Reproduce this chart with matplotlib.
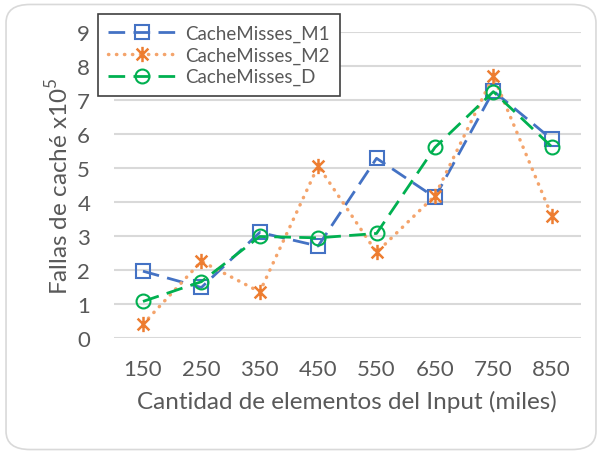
import numpy as np
import matplotlib
matplotlib.use("Agg")
import matplotlib.pyplot as plt
from matplotlib.path import Path
from matplotlib.patches import FancyBboxPatch

plt.rcParams['font.family'] = ['Lato', 'DejaVu Sans']
plt.rcParams['mathtext.fontset'] = 'custom'
plt.rcParams['mathtext.rm'] = 'Lato'

# data
categories = ["150", "250", "350", "450", "550", "650", "750", "850"]
m1 = [1.96, 1.48, 3.10, 2.70, 5.28, 4.13, 7.26, 5.84]
m2 = [0.40, 2.25, 1.35, 5.06, 2.51, 4.18, 7.70, 3.59]
d = [1.07, 1.65, 2.98, 2.94, 3.07, 5.60, 7.24, 5.62]

gray = "#595959"
x = np.arange(len(categories))

# excel style star marker: X plus vertical bar
star = Path([(-1, -1), (1, 1), (-1, 1), (1, -1), (0, -1.3), (0, 1.3)],
            [Path.MOVETO, Path.LINETO, Path.MOVETO, Path.LINETO, Path.MOVETO, Path.LINETO])

fig = plt.figure(figsize=(6.02, 4.56), dpi=100)
ax = fig.add_axes([0.189, 0.257, 0.776, 0.671])

# rounded chart border
fig.patches.append(FancyBboxPatch((0.01, 0.012), 0.98, 0.976, boxstyle="round,pad=0,rounding_size=0.04",
                                  transform=fig.transFigure, fc="white", ec="#d9d9d9", lw=1.2, zorder=-10))

ax.plot(x, m1, color="#4472c4", lw=2, dashes=(6, 3), marker="s", ms=10, mfc="none",
        mec="#4472c4", mew=1.5, label="CacheMisses_M1")
ax.plot(x, m2, color="#f4a46c", lw=2.5, linestyle=(0, (0.1, 2.2)), dash_capstyle="round",
        marker=star, ms=11, mec="#ed7d31", mew=1.8, label="CacheMisses_M2")
ax.plot(x, d, color="#00b050", lw=2, dashes=(6, 3), marker="o", ms=10, mfc="none",
        mec="#00b050", mew=1.5, label="CacheMisses_D")

ax.set_xlim(-0.5, len(categories) - 0.5)
ax.set_ylim(0, 9)
ax.set_yticks(range(0, 10))
ax.set_xticks(x)
ax.set_xticklabels(categories)
ax.grid(axis="y", color="#d9d9d9", lw=1.5)
ax.set_axisbelow(True)
for s in ax.spines.values():
    s.set_visible(False)
ax.tick_params(length=0, labelsize=16, colors=gray)
ax.tick_params(axis="y", pad=17)
ax.tick_params(axis="x", pad=15)

ax.set_xlabel("Cantidad de elementos del Input (miles)", fontsize=17.5, color=gray, labelpad=8)
ax.set_ylabel("Fallas de caché x10$^{5}$", fontsize=17.5, color=gray, labelpad=4)

leg = ax.legend(loc="upper left", bbox_to_anchor=(98 / 602, 1 - 15 / 456), bbox_transform=fig.transFigure,
                fontsize=13.5, frameon=True, fancybox=False, edgecolor="#404040", framealpha=1,
                handlelength=3.6, borderpad=0.55, labelspacing=0.25, handletextpad=0.5, borderaxespad=0)
leg.get_frame().set_linewidth(1.2)
for t in leg.get_texts():
    t.set_color(gray)

fig.savefig("out.png", dpi=100)
